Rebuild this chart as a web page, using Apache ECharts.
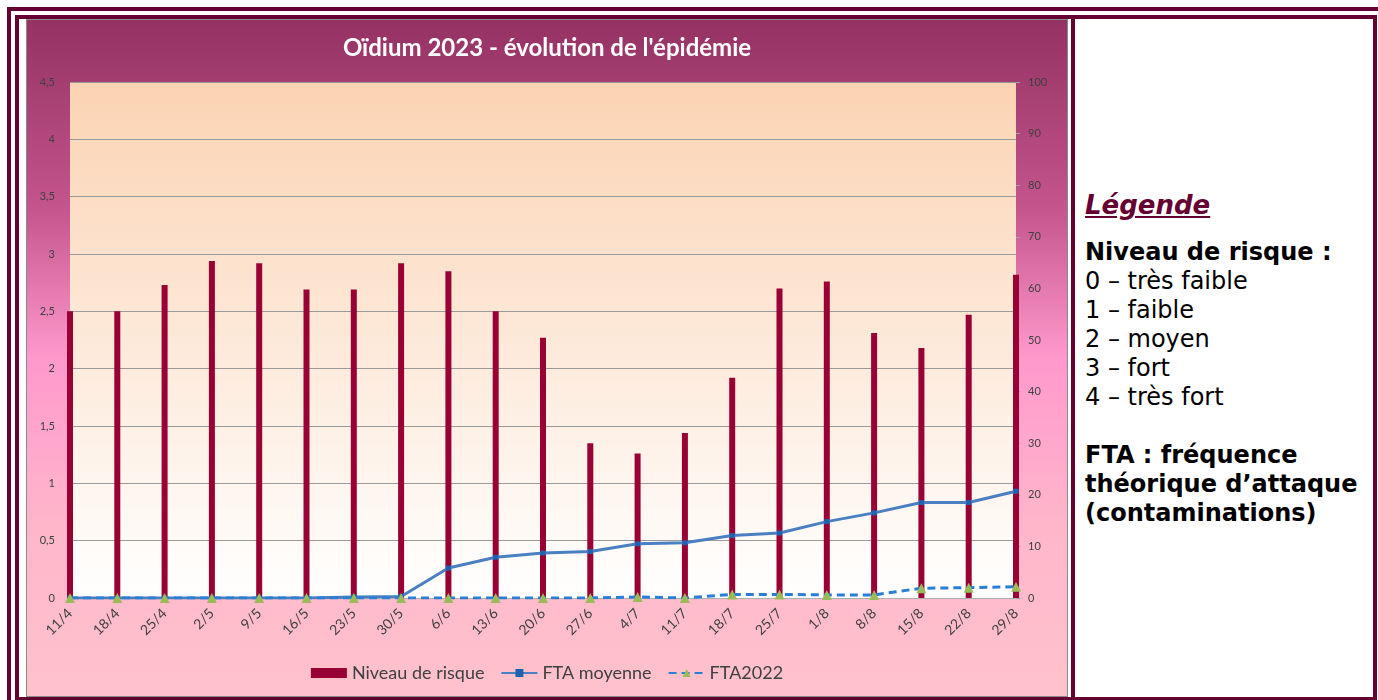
<!DOCTYPE html>
<html>
<head>
<meta charset="utf-8">
<title>Oïdium 2023</title>
<script src="https://cdn.jsdelivr.net/npm/echarts@6/dist/echarts.min.js"></script>
<style>
  html, body { margin: 0; padding: 0; background: #fff; overflow: hidden; }
  #cadre1 { position: absolute; left: 7px; top: 7px; width: 1400px; height: 720px;
    border-top: 4px solid #660033; border-left: 4px solid #660033; }
  #cadre2 { position: absolute; left: 15px; top: 15px; width: 1354px; height: 678px;
    border: 4px solid #660033; }
  #separateur { position: absolute; left: 1071px; top: 19px; width: 4px; height: 678px; background: #660033; }
  #chart { position: absolute; left: 26px; top: 19px; width: 1042px; height: 678px;
    background: linear-gradient(to bottom, #943262 0%, #c4558d 28%, #ff99cc 50%, #ffb6cb 75%, #ffc2cc 100%);
    box-shadow: inset 0 0 0 1px #8a8a8a; }
  #legende { position: absolute; left: 1085px; top: 188px; font-family: 'DejaVu Sans', Verdana, sans-serif;
    font-size: 24px; line-height: 29px; color: #000; white-space: nowrap; }
  #legende .titre { font-weight: bold; font-style: italic; text-decoration: underline; color: #660033;
    font-size: 26px; line-height: 34px; margin-bottom: 16px; }
  #legende b { font-weight: bold; }
</style>
</head>
<body>
<div id="cadre1"></div>
<div id="cadre2"></div>
<div id="separateur"></div>
<div id="chart"></div>
<div id="legende">
  <div class="titre">Légende</div>
  <div><b>Niveau de risque :</b></div>
  <div>0 – très faible</div>
  <div>1 – faible</div>
  <div>2 – moyen</div>
  <div>3 – fort</div>
  <div>4 – très fort</div>
  <div>&nbsp;</div>
  <div><b>FTA : fréquence</b></div>
  <div><b>théorique d’attaque</b></div>
  <div><b>(contaminations)</b></div>
</div>
<script>
// dates des relevés
const dates = ['11/4', '18/4', '25/4', '2/5', '9/5', '16/5', '23/5', '30/5', '6/6', '13/6', '20/6',
  '27/6', '4/7', '11/7', '18/7', '25/7', '1/8', '8/8', '15/8', '22/8', '29/8']
// niveau de risque (axe gauche)
const niveauRisque = [2.5, 2.5, 2.73, 2.94, 2.92, 2.69, 2.69, 2.92, 2.85, 2.5, 2.27,
  1.35, 1.26, 1.44, 1.92, 2.70, 2.76, 2.31, 2.18, 2.47, 2.82]
// FTA moyenne (axe droit)
const ftaMoyenne = [0, 0, 0, 0, 0, 0, 0.2, 0.3, 5.8, 7.9, 8.7,
  9.0, 10.5, 10.7, 12.1, 12.6, 14.8, 16.5, 18.5, 18.5, 20.7]
// FTA 2022 (axe droit)
const fta2022 = [0, 0, 0, 0, 0, 0, 0, 0, 0, 0, 0,
  0, 0.2, 0, 0.7, 0.7, 0.6, 0.6, 1.9, 2.0, 2.2]

const myChart = echarts.init(document.getElementById('chart'))
const virgule = v => String(v).replace('.', ',')

const option = {
  backgroundColor: 'transparent',
  animation: false,
  textStyle: { fontFamily: 'Lato, sans-serif' },
  title: {
    text: "Oïdium 2023 - évolution de l'épidémie",
    left: 'center',
    top: 12,
    textStyle: { color: '#ffffff', fontSize: 24, fontWeight: 'bold', fontFamily: 'Lato, sans-serif' }
  },
  grid: {
    left: 44, right: 52, top: 63, bottom: 99,
    show: true,
    borderWidth: 0,
    backgroundColor: new echarts.graphic.LinearGradient(0, 0, 0, 1, [
      { offset: 0, color: '#fbd3b3' },
      { offset: 1, color: '#ffffff' }
    ])
  },
  legend: {
    bottom: 10,
    left: 'center',
    itemGap: 16,
    itemWidth: 36,
    itemHeight: 10,
    textStyle: { color: '#404040', fontSize: 18, fontFamily: 'Lato, sans-serif' },
    data: [
      { name: 'Niveau de risque', icon: 'rect' },
      { name: 'FTA moyenne' },
      { name: 'FTA2022' }
    ]
  },
  xAxis: {
    type: 'category',
    data: dates,
    boundaryGap: false,
    axisLine: { show: true, lineStyle: { color: '#b0b0b0', width: 1 } },
    axisTick: { show: false },
    axisLabel: { rotate: 45, color: '#404040', fontSize: 14, margin: 13, interval: 0 }
  },
  yAxis: [
    {
      type: 'value', min: 0, max: 4.5, interval: 0.5,
      axisLine: { show: false },
      axisTick: { show: false },
      axisLabel: { color: '#404040', fontSize: 11, margin: 15, formatter: virgule },
      splitLine: { lineStyle: { color: '#9a9a9a', width: 1 } }
    },
    {
      type: 'value', min: 0, max: 100, interval: 10,
      axisLine: { show: false },
      axisTick: { show: true, length: 4, lineStyle: { color: '#a0a0a0' } },
      axisLabel: { color: '#404040', fontSize: 11, margin: 12 },
      splitLine: { show: false }
    }
  ],
  series: [
    {
      name: 'Niveau de risque',
      type: 'bar',
      yAxisIndex: 0,
      barWidth: 6,
      clip: false,
      itemStyle: { color: '#990033' },
      data: niveauRisque
    },
    {
      name: 'FTA moyenne',
      type: 'line',
      yAxisIndex: 1,
      symbol: 'rect',
      symbolSize: 5,
      lineStyle: { color: '#4a7fc1', width: 3 },
      itemStyle: { color: '#1f62ad' },
      data: ftaMoyenne
    },
    {
      name: 'FTA2022',
      type: 'line',
      yAxisIndex: 1,
      symbol: 'triangle',
      symbolSize: 10,
      lineStyle: { color: '#2a7fd4', width: 3, type: [8, 5] },
      itemStyle: { color: '#9bbb59' },
      data: fta2022
    }
  ]
}
myChart.setOption(option)
</script>
</body>
</html>
